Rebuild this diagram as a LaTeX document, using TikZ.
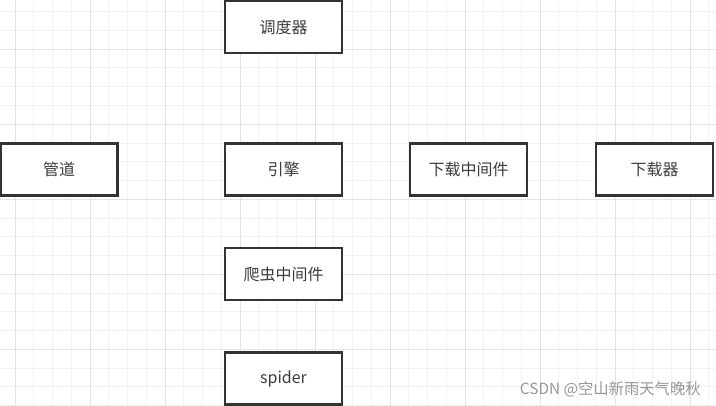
\documentclass[tikz,border=0pt]{standalone}
\usepackage{fontspec}
\setmainfont{Noto Sans CJK SC}
\usepackage{xcolor}
\usepackage{tikz}
\usetikzlibrary{positioning}
\definecolor{boxline}{RGB}{51, 51, 51}
\definecolor{textgray}{RGB}{60, 60, 60}
\definecolor{gridminor}{RGB}{242, 242, 242}
\definecolor{gridmajor}{RGB}{226, 226, 226}
\definecolor{markgray}{RGB}{150, 150, 150}

\begin{document}
\begin{tikzpicture}[
    x=0.75pt, y=-0.75pt,
    part/.style={rectangle, draw=boxline, line width=1.8pt, fill=white, minimum width=88pt, minimum height=39pt, align=center, text=textgray, font=\fontsize{12}{14}\selectfont},
    minorline/.style={gridminor, line width=0.75pt},
    majorline/.style={gridmajor, line width=0.75pt}
]
\useasboundingbox (0,0) rectangle (716,406);
\clip (0,0) rectangle (716,406);

% Background grid
\foreach \i in {0,...,38} {
    \pgfmathsetmacro{\gx}{-3.75+18.75*\i}
    \draw[minorline] (\gx,0) -- (\gx,406);
}
\foreach \i in {0,...,22} {
    \pgfmathsetmacro{\gy}{-7+18.75*\i}
    \draw[minorline] (0,\gy) -- (716,\gy);
}
\foreach \i in {1,5,...,37} {
    \pgfmathsetmacro{\gx}{-3.75+18.75*\i}
    \draw[majorline] (\gx,0) -- (\gx,406);
}
\foreach \i in {3,7,...,23} {
    \pgfmathsetmacro{\gy}{-7+18.75*\i}
    \draw[majorline] (0,\gy) -- (716,\gy);
}

% Components
\node[part] (scheduler) at (283.5,27) {调度器};
\node[part] (engine) at (283.5,169.5) {引擎};
\node[part] (pipeline) at (59,169.5) {管道};
\node[part] (dlmiddleware) at (468.5,169.5) {下载中间件};
\node[part] (downloader) at (654.5,169.5) {下载器};
\node[part] (spidermiddleware) at (283.5,274) {爬虫中间件};
\node[part] (spider) at (283.5,378.5) {spider};

% Watermark
\node[anchor=east, text=markgray, font=\fontsize{11.5}{13}\selectfont, inner sep=0pt] (mark) at (701,389) {CSDN @空山新雨天气晚秋};
\end{tikzpicture}
\end{document}
